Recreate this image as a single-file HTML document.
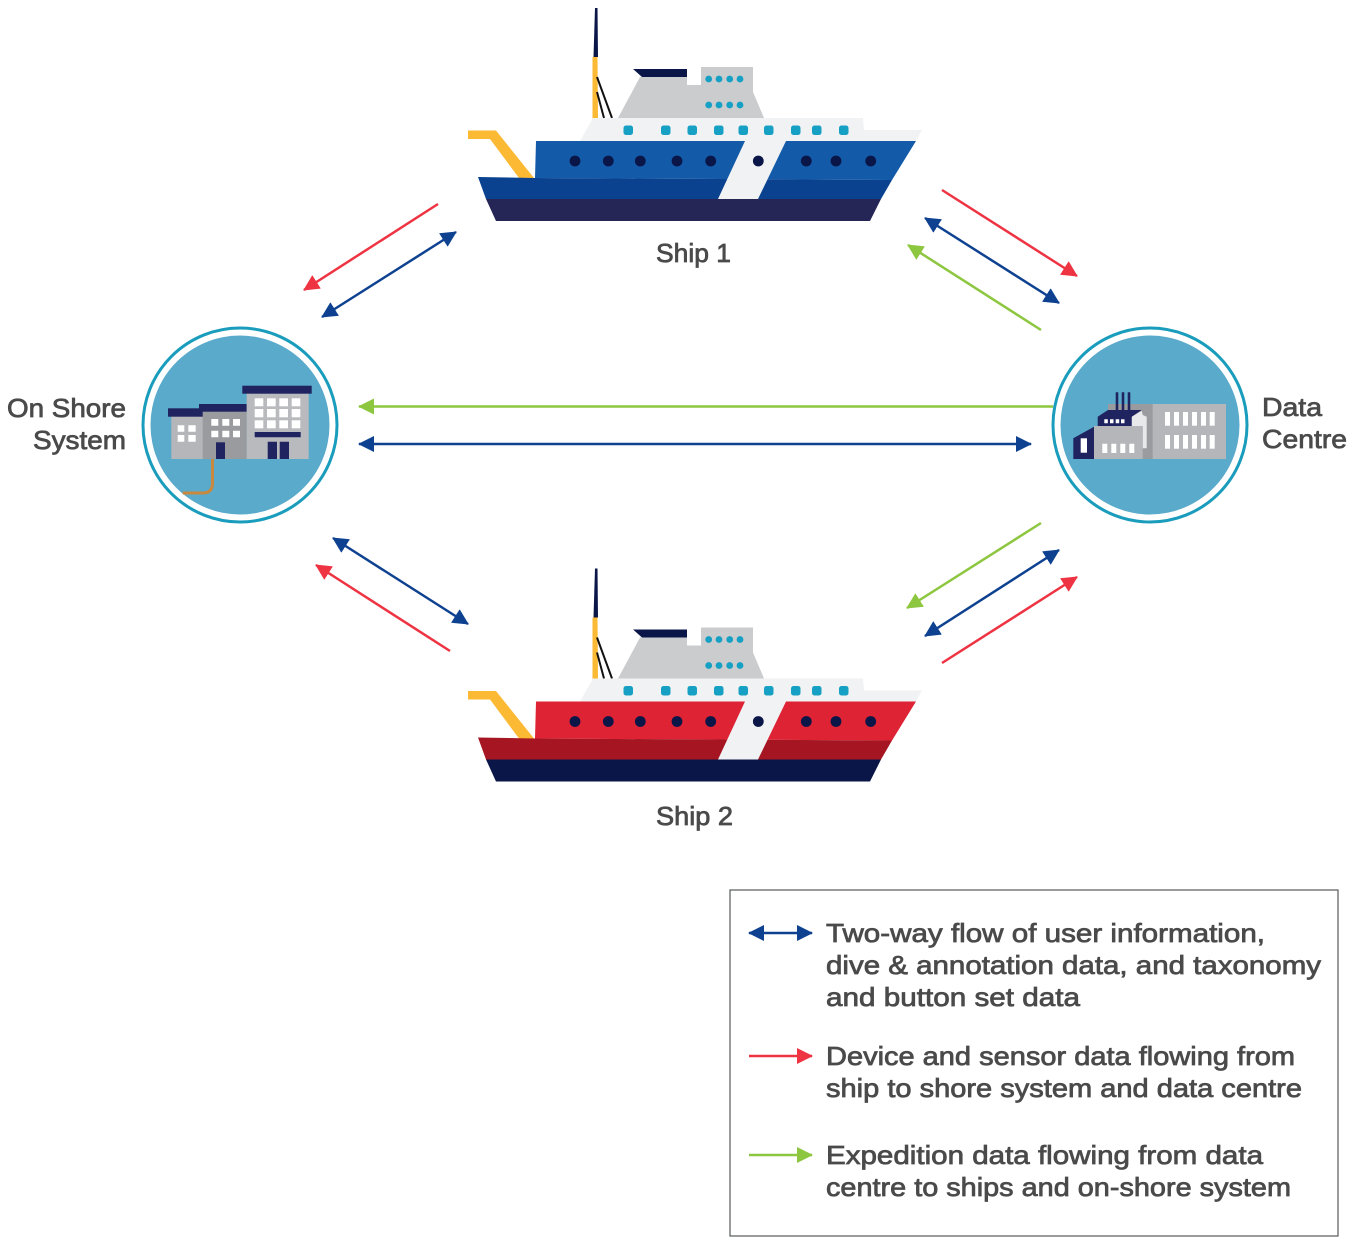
<!DOCTYPE html>
<html><head><meta charset="utf-8"><style>
html,body{margin:0;padding:0;background:#fff}
svg{display:block}
text{font-family:"Liberation Sans",sans-serif;font-size:26px;fill:#4a4a4a;stroke:#4a4a4a;stroke-width:.75px}
</style></head><body>
<svg width="1355" height="1245" viewBox="0 0 1355 1245" xmlns="http://www.w3.org/2000/svg">
<defs>
<marker id="b" markerUnits="userSpaceOnUse" markerWidth="18" markerHeight="18" refX="15" refY="8" orient="auto-start-reverse"><path d="M0 0L16 8L0 16Z" fill="#0e4290"/></marker>
<marker id="r" markerUnits="userSpaceOnUse" markerWidth="18" markerHeight="18" refX="15" refY="8" orient="auto-start-reverse"><path d="M0 0L16 8L0 16Z" fill="#ee3342"/></marker>
<marker id="g" markerUnits="userSpaceOnUse" markerWidth="18" markerHeight="18" refX="15" refY="8" orient="auto-start-reverse"><path d="M0 0L16 8L0 16Z" fill="#8dc63f"/></marker>
<g id="ship">
<path d="M595 8H597.5L598 57H593.5Z" fill="#0a1648"/>
<path d="M592.5 57H597.5L598 120H592.5Z" fill="#fbb934"/>
<path d="M597 77L612 118M597 92L604 118" stroke="#111" stroke-width="2" fill="none"/>
<path d="M633 69H687V77H642Z" fill="#0a1648"/>
<path d="M618 118L640 77H687V85H701V67H753V92L764 118Z" fill="#cbccce"/>
<g fill="#16a0c4"><circle cx="708.7" cy="79" r="3.4"/><circle cx="719" cy="79" r="3.4"/><circle cx="729.7" cy="79" r="3.4"/><circle cx="740" cy="79" r="3.4"/><circle cx="708.7" cy="105" r="3.4"/><circle cx="719" cy="105" r="3.4"/><circle cx="729.7" cy="105" r="3.4"/><circle cx="740" cy="105" r="3.4"/></g>
<path d="M580 141L593 118H863L864 130H922L916 141Z" fill="#f1f2f3"/>
<g fill="#16a0c4"><rect x="623.5" y="125.5" width="9.5" height="9.5" rx="2.5"/><rect x="661" y="125.5" width="9.5" height="9.5" rx="2.5"/><rect x="687.5" y="125.5" width="9.5" height="9.5" rx="2.5"/><rect x="714" y="125.5" width="9.5" height="9.5" rx="2.5"/><rect x="738.5" y="125.5" width="9.5" height="9.5" rx="2.5"/><rect x="764" y="125.5" width="9.5" height="9.5" rx="2.5"/><rect x="791" y="125.5" width="9.5" height="9.5" rx="2.5"/><rect x="812" y="125.5" width="9.5" height="9.5" rx="2.5"/><rect x="839" y="125.5" width="9.5" height="9.5" rx="2.5"/></g>
<path d="M468 130.5H496L534 178H519L490 139H468Z" fill="#fbb934"/>
<path d="M536 141H916L892 180L535 178Z" style="fill:var(--a)"/>
<path d="M478 177L535 178L892 180L881 199H486Z" style="fill:var(--c)"/>
<path d="M486 199H881L870 221H496Z" style="fill:var(--d)"/>
<path d="M745 141H786L758 199H718Z" fill="#f1f2f3"/>
<g fill="#0a1648"><circle cx="575" cy="161" r="5.4"/><circle cx="608.3" cy="161" r="5.4"/><circle cx="640.3" cy="161" r="5.4"/><circle cx="677" cy="161" r="5.4"/><circle cx="710.7" cy="161" r="5.4"/><circle cx="758.3" cy="161" r="5.4"/><circle cx="806.3" cy="161" r="5.4"/><circle cx="836" cy="161" r="5.4"/><circle cx="870.7" cy="161" r="5.4"/></g>
</g>
</defs>

<use href="#ship" style="--a:#135aa8;--c:#0a4290;--d:#252556"/>
<use href="#ship" y="560.5" style="--a:#dd2334;--c:#a51622;--d:#0a1648"/>

<!-- On shore -->
<circle cx="240" cy="425" r="97" fill="#fff" stroke="#1a9cbc" stroke-width="3"/>
<circle cx="240" cy="425" r="89.5" fill="#5aaacb"/>
<path d="M212.5 459V483Q212.5 493 203 493H182.7" fill="none" stroke="#c8893f" stroke-width="3"/>
<rect x="171.3" y="416" width="32" height="43" fill="#b5b6ba"/>
<rect x="168" y="408.3" width="36" height="8.4" fill="#1f2360"/>
<path d="M177.7 425.3h6.6v6.4h-6.6zM188.3 425.3h7.4v6.4h-7.4zM177.7 435h6.6v6.7h-6.6zM188.3 435h7.4v6.7h-7.4z" fill="#fff"/>
<rect x="202.7" y="411" width="44" height="48" fill="#9a9b9f"/>
<rect x="199" y="404" width="47.7" height="7.7" fill="#1f2360"/>
<path d="M211.3 419h7v6.7h-7zM222.3 419h7v6.7h-7zM233 419h7v6.7h-7zM211.3 430.7h7v6.6h-7zM222.3 430.7h7v6.6h-7zM233 430.7h7v6.6h-7z" fill="#fff"/>
<rect x="216" y="442.3" width="9" height="16.7" fill="#1f2360"/>
<rect x="246.7" y="393" width="62" height="66" fill="#b9babd"/>
<rect x="242.3" y="385.7" width="69.4" height="8" fill="#1f2360"/>
<g fill="#fff"><rect x="254.7" y="398.3" width="8.6" height="8"/><rect x="267" y="398.3" width="8.7" height="8"/><rect x="279.3" y="398.3" width="8.7" height="8"/><rect x="291.7" y="398.3" width="8.6" height="8"/><rect x="254.7" y="409" width="8.6" height="8.3"/><rect x="267" y="409" width="8.7" height="8.3"/><rect x="279.3" y="409" width="8.7" height="8.3"/><rect x="291.7" y="409" width="8.6" height="8.3"/><rect x="254.7" y="420.3" width="8.6" height="8"/><rect x="267" y="420.3" width="8.7" height="8"/><rect x="279.3" y="420.3" width="8.7" height="8"/><rect x="291.7" y="420.3" width="8.6" height="8"/></g>
<path d="M254.7 432h46v5.3h-46zM267.7 441.7h9.3V459h-9.3zM279.7 441.7h9.3V459h-9.3z" fill="#1f2360"/>

<!-- Data centre -->
<circle cx="1150" cy="425" r="97" fill="#fff" stroke="#1a9cbc" stroke-width="3"/>
<circle cx="1150" cy="425" r="89.5" fill="#5aaacb"/>
<rect x="1108" y="404" width="45" height="55" fill="#9a9b9f"/>
<rect x="1152.7" y="404" width="73.3" height="55" fill="#b5b6ba"/>
<g fill="#fff"><rect x="1165" y="412" width="5" height="13.7"/><rect x="1174" y="412" width="5" height="13.7"/><rect x="1183" y="412" width="5" height="13.7"/><rect x="1192" y="412" width="5" height="13.7"/><rect x="1201" y="412" width="5" height="13.7"/><rect x="1209.7" y="412" width="5" height="13.7"/><rect x="1165" y="435" width="5" height="13.7"/><rect x="1174" y="435" width="5" height="13.7"/><rect x="1183" y="435" width="5" height="13.7"/><rect x="1192" y="435" width="5" height="13.7"/><rect x="1201" y="435" width="5" height="13.7"/><rect x="1209.7" y="435" width="5" height="13.7"/></g>
<path d="M1115.7 392.3h2.6V411h-2.6zM1121.7 392.3h2.6V411h-2.6zM1127.7 392.3h2.6V411h-2.6z" fill="#1f2360"/>
<path d="M1131.7 416.7L1141.7 410.7L1142.7 415L1146.7 416.7V448.3H1142.7V426H1131.7Z" fill="#e8e9ea"/>
<rect x="1094" y="426" width="48.7" height="33" fill="#b5b6ba"/>
<path d="M1097.7 416.7V426H1131.7V416.7L1141.7 410H1108Z" fill="#1f2360"/>
<path d="M1104.3 419.3h3.5v4h-3.5zM1110 419.3h3.5v4h-3.5zM1115.7 419.3h3.5v4h-3.5zM1121 419.3h3.5v4h-3.5z" fill="#fff"/>
<path d="M1102.3 443.7h5v9.3h-5zM1111.3 443.7h5v9.3h-5zM1120.3 443.7h5v9.3h-5zM1129.3 443.7h5v9.3h-5z" fill="#fff"/>
<path d="M1073.3 438.3L1094 426.7V459H1073.3Z" fill="#1f2360"/>
<rect x="1080.7" y="438.3" width="6.3" height="14.4" fill="#fff"/>

<!-- Arrows -->
<g fill="none" stroke-width="2.5">
<line x1="438" y1="204" x2="304" y2="290" stroke="#ee3342" marker-end="url(#r)"/>
<line x1="456" y1="232" x2="322" y2="317" stroke="#0e4290" marker-start="url(#b)" marker-end="url(#b)"/>
<line x1="942" y1="190" x2="1077" y2="276" stroke="#ee3342" marker-end="url(#r)"/>
<line x1="925" y1="218" x2="1059" y2="303" stroke="#0e4290" marker-start="url(#b)" marker-end="url(#b)"/>
<line x1="1041" y1="330" x2="908" y2="245" stroke="#8dc63f" marker-end="url(#g)"/>
<line x1="1053" y1="406.5" x2="359" y2="406.5" stroke="#8dc63f" marker-end="url(#g)"/>
<line x1="359" y1="444" x2="1031" y2="444" stroke="#0e4290" marker-start="url(#b)" marker-end="url(#b)"/>
<line x1="333" y1="538" x2="468" y2="624" stroke="#0e4290" marker-start="url(#b)" marker-end="url(#b)"/>
<line x1="450" y1="651" x2="316" y2="565" stroke="#ee3342" marker-end="url(#r)"/>
<line x1="1041" y1="523" x2="907" y2="608" stroke="#8dc63f" marker-end="url(#g)"/>
<line x1="1059" y1="550" x2="925" y2="636" stroke="#0e4290" marker-start="url(#b)" marker-end="url(#b)"/>
<line x1="942" y1="663" x2="1077" y2="577" stroke="#ee3342" marker-end="url(#r)"/>
<line x1="749" y1="933" x2="812" y2="933" stroke="#0e4290" marker-start="url(#b)" marker-end="url(#b)"/>
<line x1="749" y1="1056" x2="812" y2="1056" stroke="#ee3342" marker-end="url(#r)"/>
<line x1="749" y1="1155" x2="812" y2="1155" stroke="#8dc63f" marker-end="url(#g)"/>
</g>

<rect x="730" y="890" width="608" height="346" fill="none" stroke="#58595b" stroke-width="1.2"/>

<!-- Labels -->
<text x="656" y="262" textLength="75" lengthAdjust="spacingAndGlyphs">Ship 1</text>
<text x="656" y="825" textLength="77" lengthAdjust="spacingAndGlyphs">Ship 2</text>
<text x="7" y="417" textLength="119" lengthAdjust="spacingAndGlyphs">On Shore</text>
<text x="33" y="449" textLength="93" lengthAdjust="spacingAndGlyphs">System</text>
<text x="1262" y="416" textLength="60" lengthAdjust="spacingAndGlyphs">Data</text>
<text x="1262" y="448" textLength="85" lengthAdjust="spacingAndGlyphs">Centre</text>
<text x="826" y="942" textLength="439" lengthAdjust="spacingAndGlyphs">Two-way flow of user information,</text>
<text x="826" y="974" textLength="495" lengthAdjust="spacingAndGlyphs">dive &amp; annotation data, and taxonomy</text>
<text x="826" y="1006" textLength="254" lengthAdjust="spacingAndGlyphs">and button set data</text>
<text x="826" y="1065" textLength="469" lengthAdjust="spacingAndGlyphs">Device and sensor data flowing from</text>
<text x="826" y="1097" textLength="476" lengthAdjust="spacingAndGlyphs">ship to shore system and data centre</text>
<text x="826" y="1164" textLength="437" lengthAdjust="spacingAndGlyphs">Expedition data flowing from data</text>
<text x="826" y="1196" textLength="465" lengthAdjust="spacingAndGlyphs">centre to ships and on-shore system</text>
</svg>
</body></html>
